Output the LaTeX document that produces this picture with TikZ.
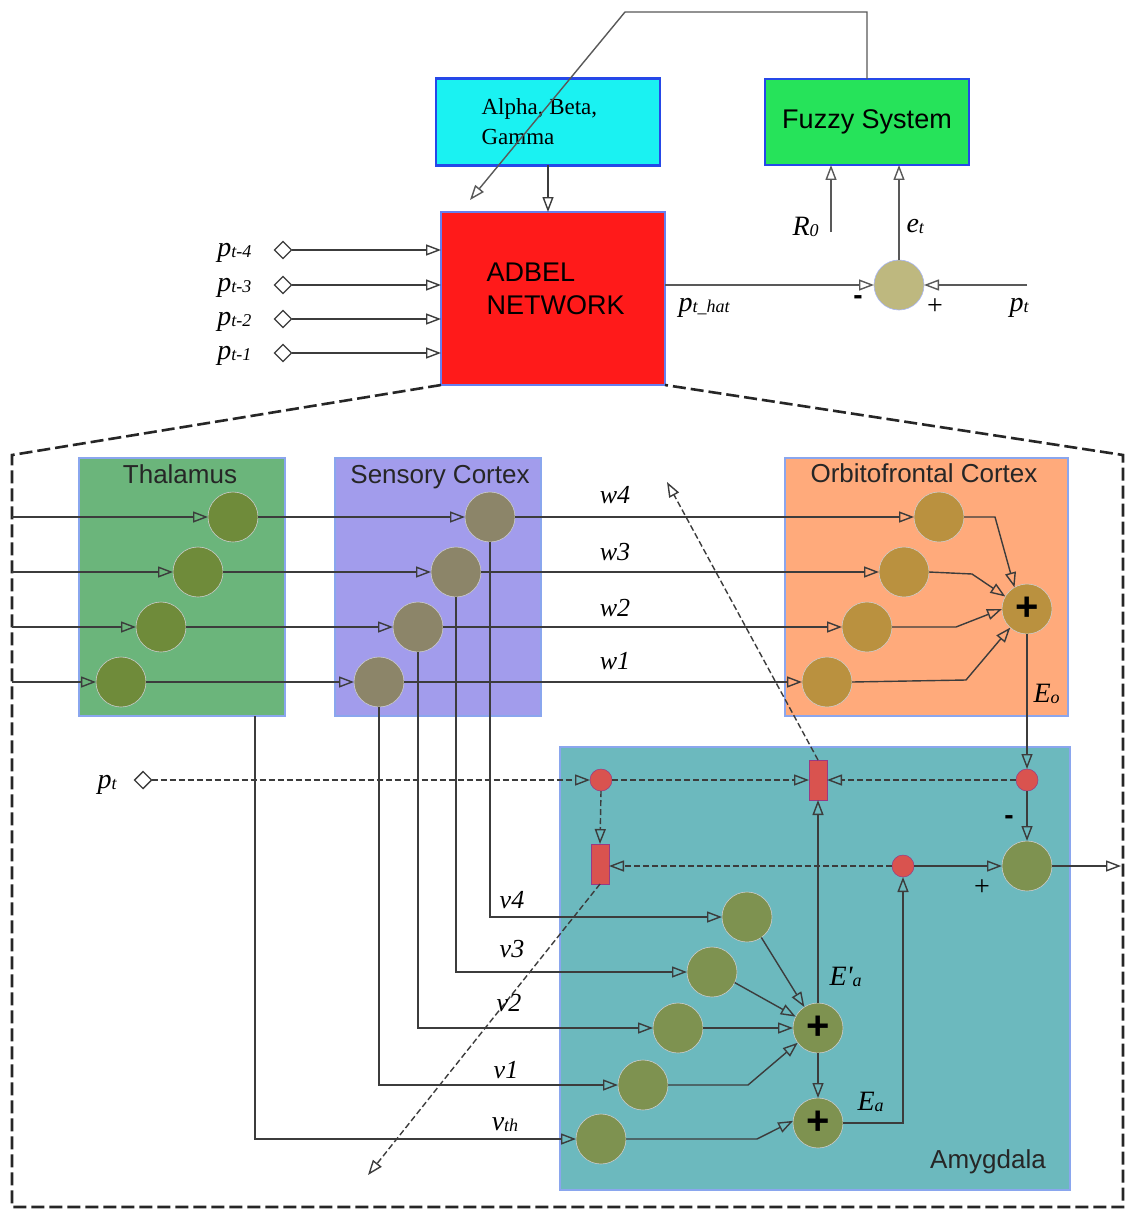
\documentclass[tikz,border=0pt]{standalone}
\usepackage{fontspec}
\setmainfont{Liberation Sans}
\newfontfamily\tms{Liberation Serif}
\usetikzlibrary{arrows.meta,shapes.geometric}
\definecolor{abgcol}{HTML}{1AF2F2}
\definecolor{fuzzcol}{HTML}{26E35A}
\definecolor{adbcol}{HTML}{FF1A1A}
\definecolor{bblue}{HTML}{2548E8}
\definecolor{thalcol}{HTML}{6BB57B}
\definecolor{senscol}{HTML}{A29CEC}
\definecolor{ofccol}{HTML}{FFAA7B}
\definecolor{amycol}{HTML}{6CB9BE}
\definecolor{regbord}{HTML}{8AA6EE}
\definecolor{thn}{HTML}{6F8B3A}
\definecolor{snn}{HTML}{8C8569}
\definecolor{ofn}{HTML}{BA913F}
\definecolor{amn}{HTML}{7E9250}
\definecolor{difn}{HTML}{BEB87F}
\definecolor{redn}{HTML}{D9534F}
\definecolor{lncol}{HTML}{3C3C3C}
\newcommand\mylab[2]{{\tms\itshape\fontsize{28}{28}\selectfont #1\raisebox{-1pt}{\fontsize{18}{18}\selectfont #2}}}
\newcommand\wlab[1]{{\tms\itshape\fontsize{26}{26}\selectfont #1}}
\begin{document}
\begin{tikzpicture}[x=1pt,y=-1pt,
  lnn/.style={draw=lncol, line width=1.4pt},
  arr/.style={lnn, -{Triangle[open,length=15pt,width=11pt]}},
  dsh/.style={arr, dash pattern=on 6pt off 3pt},
  bx/.style={rectangle, inner sep=0pt, outer sep=0pt},
  region/.style={rectangle, draw=regbord, line width=1.5pt, inner sep=0pt, outer sep=0pt},
  neuron/.style={circle, minimum size=50pt, inner sep=0pt, outer sep=0pt, draw=black!20, line width=0.6pt},
  reddot/.style={circle, minimum size=22pt, inner sep=0pt, outer sep=0pt, fill=redn, draw=redn!70!blue, line width=0.5pt},
  redbar/.style={rectangle, minimum width=18pt, minimum height=40pt, inner sep=0pt, outer sep=0pt, fill=redn, draw=redn!70!blue, line width=0.5pt},
  inpt/.style={diamond, draw=lncol, fill=white, line width=1.4pt, minimum size=17pt, inner sep=0pt, outer sep=0pt},
  ttl/.style={font=\fontsize{26}{26}\selectfont, anchor=base, text=black!85},
]
\path[use as bounding box, fill=white] (0,0) rectangle (1128,1209);

% ---------- top part ----------
\node[bx, fill=abgcol, draw=bblue, line width=2.5pt, minimum width=224pt, minimum height=87pt] (abg) at (548,122) {};
\node[anchor=west, align=left, font=\tms\fontsize{23}{30}\selectfont] (abgt) at (478,122) {Alpha, Beta,\\Gamma};
\node[bx, fill=fuzzcol, draw=bblue, line width=2.5pt, minimum width=204pt, minimum height=86pt, font=\fontsize{27}{27}\selectfont] (fuzzy) at (867,122) {Fuzzy System};
\node[bx, fill=adbcol, draw=bblue!70, line width=1.2pt, minimum width=224pt, minimum height=173pt] (adbel) at (553,298.5) {};
\node[anchor=west, align=left, font=\fontsize{27}{33}\selectfont] (adbelt) at (483,289) {ADBEL\\NETWORK};

\node[inpt] (d4) at (283,250) {};
\node[inpt] (d3) at (283,285) {};
\node[inpt] (d2) at (283,319) {};
\node[inpt] (d1) at (283,353) {};
\node[anchor=base east] (lp4) at (255,256) {\mylab{p}{t-4}};
\node[anchor=base east] (lp3) at (255,291) {\mylab{p}{t-3}};
\node[anchor=base east] (lp2) at (255,325) {\mylab{p}{t-2}};
\node[anchor=base east] (lp1) at (255,359) {\mylab{p}{t-1}};
\foreach \d in {d4,d3,d2,d1} \draw[arr] (\d.east) -- (\d.east -| adbel.west);

\draw[arr] (abg.south) -- (abg.south |- adbel.north);
\coordinate (fb1) at (625,12);
\coordinate (fb2) at (470,200);
\draw[arr, draw=black!65] (fuzzy.north) |- (fb1) -- (fb2);

\node[neuron, fill=difn, draw=bblue!40] (dif1) at (899,285) {};
\coordinate (ptin) at (1027,285);
\coordinate (r0in) at (831,232);
\draw[arr, draw=black!65] (adbel.east |- dif1.west) -- (dif1.west);
\draw[arr, draw=black!65] (ptin) -- (dif1.east);
\draw[arr, draw=black!65] (dif1.north) -- (dif1.north |- fuzzy.south);
\draw[arr, draw=black!65] (r0in) -- (r0in |- fuzzy.south);
\node[anchor=base west] (lphat) at (675,311) {\mylab{p}{t\_hat}};
\node[font=\fontsize{28}{28}\selectfont\bfseries] (lm1) at (858,300) {-};
\node[font=\tms\fontsize{28}{28}\selectfont] (lpl1) at (935,307) {+};
\node[anchor=base west] (lpt1) at (1006,311) {\mylab{p}{t}};
\node[anchor=base west] (let) at (903,232) {\mylab{e}{t}};
\node[anchor=base west] (lr0) at (789,235) {\mylab{R}{0}};

% ---------- dashed enclosure ----------
\draw[line width=2.6pt, dash pattern=on 13pt off 5pt, draw=black!85] (adbel.south west) -- (12,455) -- (12,1207) -- (1123,1207) -- (1123,455) -- (adbel.south east);

% ---------- regions ----------
\node[region, fill=thalcol, minimum width=206pt, minimum height=258pt] (thal) at (182,587) {};
\node[region, fill=senscol, minimum width=206pt, minimum height=258pt] (sens) at (438,587) {};
\node[region, fill=ofccol, minimum width=283pt, minimum height=258pt] (ofc) at (926.5,587) {};
\node[region, fill=amycol, minimum width=510pt, minimum height=443pt] (amy) at (815,968.5) {};
\node[ttl] (tthal) at (180,483) {Thalamus};
\node[ttl] (tsens) at (440,483) {Sensory Cortex};
\node[ttl] (tofc) at (924,482) {Orbitofrontal Cortex};
\node[ttl] (tamy) at (988,1168) {Amygdala};

% ---------- neurons ----------
\node[neuron, fill=thn] (t4) at (233,517) {};
\node[neuron, fill=thn] (t3) at (198,572) {};
\node[neuron, fill=thn] (t2) at (161,627) {};
\node[neuron, fill=thn] (t1) at (121,682) {};
\node[neuron, fill=snn] (s4) at (490,517) {};
\node[neuron, fill=snn] (s3) at (456,572) {};
\node[neuron, fill=snn] (s2) at (418,627) {};
\node[neuron, fill=snn] (s1) at (379,682) {};
\node[neuron, fill=ofn] (o4) at (939,517) {};
\node[neuron, fill=ofn] (o3) at (904,572) {};
\node[neuron, fill=ofn] (o2) at (867,627) {};
\node[neuron, fill=ofn] (o1) at (827,682) {};
\node[neuron, fill=ofn, font=\fontsize{40}{40}\selectfont\bfseries] (oplus) at (1027,609) {+};

\node[neuron, fill=amn] (a4) at (747,917) {};
\node[neuron, fill=amn] (a3) at (712,972) {};
\node[neuron, fill=amn] (a2) at (678,1028) {};
\node[neuron, fill=amn] (a1) at (643,1085) {};
\node[neuron, fill=amn] (ath) at (601,1139) {};
\node[neuron, fill=amn, font=\fontsize{40}{40}\selectfont\bfseries] (ap1) at (818,1028) {+};
\node[neuron, fill=amn, font=\fontsize{40}{40}\selectfont\bfseries] (ap2) at (818,1123) {+};
\node[neuron, fill=amn] (dif2) at (1027,866) {};

\node[reddot] (r1) at (601,780) {};
\node[reddot] (r2) at (1027,780) {};
\node[reddot] (r3) at (903,866) {};
\node[redbar] (q1) at (818,780) {};
\node[redbar] (q2) at (600,864) {};

% ---------- input lines ----------
\coordinate (in4) at (12,517);
\coordinate (in3) at (12,572);
\coordinate (in2) at (12,627);
\coordinate (in1) at (12,682);
\draw[arr] (in4) -- (t4.west);
\draw[arr] (in3) -- (t3.west);
\draw[arr] (in2) -- (t2.west);
\draw[arr] (in1) -- (t1.west);
\draw[arr] (t4.east) -- (s4.west);
\draw[arr] (t3.east) -- (s3.west);
\draw[arr] (t2.east) -- (s2.west);
\draw[arr] (t1.east) -- (s1.west);
\draw[arr] (s4.east) -- (o4.west);
\draw[arr] (s3.east) -- (o3.west);
\draw[arr] (s2.east) -- (o2.west);
\draw[arr] (s1.east) -- (o1.west);

% ---------- OFC sums ----------
\coordinate (k4) at (995,517);
\coordinate (k3) at (972,574);
\coordinate (k2) at (956,627);
\coordinate (k1) at (966,680);
\draw[arr] (o4.east) -- (k4) -- (oplus.120);
\draw[arr] (o3.east) -- (k3) -- (oplus.150);
\draw[arr] (o2.east) -- (k2) -- (oplus.180);
\draw[arr] (o1.east) -- (k1) -- (oplus.228);
\draw[arr] (oplus.south) -- (oplus.south |- r2.north);

% ---------- amygdala inputs ----------
\coordinate (vth0) at (255,716);
\draw[arr] (s4.south) |- (a4.west);
\draw[arr] (s3.south) |- (a3.west);
\draw[arr] (s2.south) |- (a2.west);
\draw[arr] (s1.south) |- (a1.west);
\draw[arr] (vth0) |- (ath.west);

\coordinate (m1) at (748,1085);
\coordinate (m0) at (757,1139);
\draw[arr] (a4.-55) -- (ap1.123);
\draw[arr] (a3.-25) -- (ap1.153);
\draw[arr] (a2.east) -- (ap1.west);
\draw[arr] (a1.east) -- (m1) -- (ap1.216);
\draw[arr] (ath.east) -- (m0) -- (ap2.175);
\draw[arr] (ap1.south) -- (ap2.north);
\draw[arr] (ap1.north) -- (q1.south);
\draw[arr] (ap2.east) -| (r3.south);

% ---------- reward / learning paths ----------
\node[inpt] (dpt) at (143,780) {};
\node[anchor=base west] (lpt2) at (94,788) {\mylab{p}{t}};
\draw[dsh] (dpt.east) -- (r1.west);
\draw[dsh] (r1.east) -- (q1.west);
\draw[dsh] (r2.west) -- (q1.east);
\draw[dsh] (r1.south) -- (q2.north);
\draw[dsh] (r3.west) -- (r3.west -| q2.east);
\draw[arr] (r2.south) -- (dif2.north);
\draw[arr] (r3.east) -- (dif2.west);
\coordinate (out) at (1121,866);
\draw[arr] (dif2.east) -- (out);
\coordinate (diagA) at (667,482);
\coordinate (diagB) at (368,1175);
\draw[dsh] (q1.north) -- (diagA);
\draw[dsh] (q2.south) -- (diagB);

% ---------- labels ----------
\node[anchor=base] (lw4) at (615,503) {\wlab{w4}};
\node[anchor=base] (lw3) at (615,560) {\wlab{w3}};
\node[anchor=base] (lw2) at (615,616) {\wlab{w2}};
\node[anchor=base] (lw1) at (615,669) {\wlab{w1}};
\node[anchor=base] (lv4) at (512,908) {\wlab{v4}};
\node[anchor=base] (lv3) at (512,957) {\wlab{v3}};
\node[anchor=base] (lv2) at (509,1011) {\wlab{v2}};
\node[anchor=base] (lv1) at (506,1078) {\wlab{v1}};
\node[anchor=base] (lvth) at (505,1130) {\mylab{v}{th}};
\node[anchor=base west] (leo) at (1030,702) {\mylab{E}{o}};
\node[anchor=base west] (lepa) at (826,985) {\mylab{E'}{a}};
\node[anchor=base west] (lea) at (854,1110) {\mylab{E}{a}};
\node[font=\fontsize{28}{28}\selectfont\bfseries] (lm2) at (1009,820) {-};
\node[font=\tms\fontsize{28}{28}\selectfont] (lpl2) at (982,888) {+};
\end{tikzpicture}
\end{document}
